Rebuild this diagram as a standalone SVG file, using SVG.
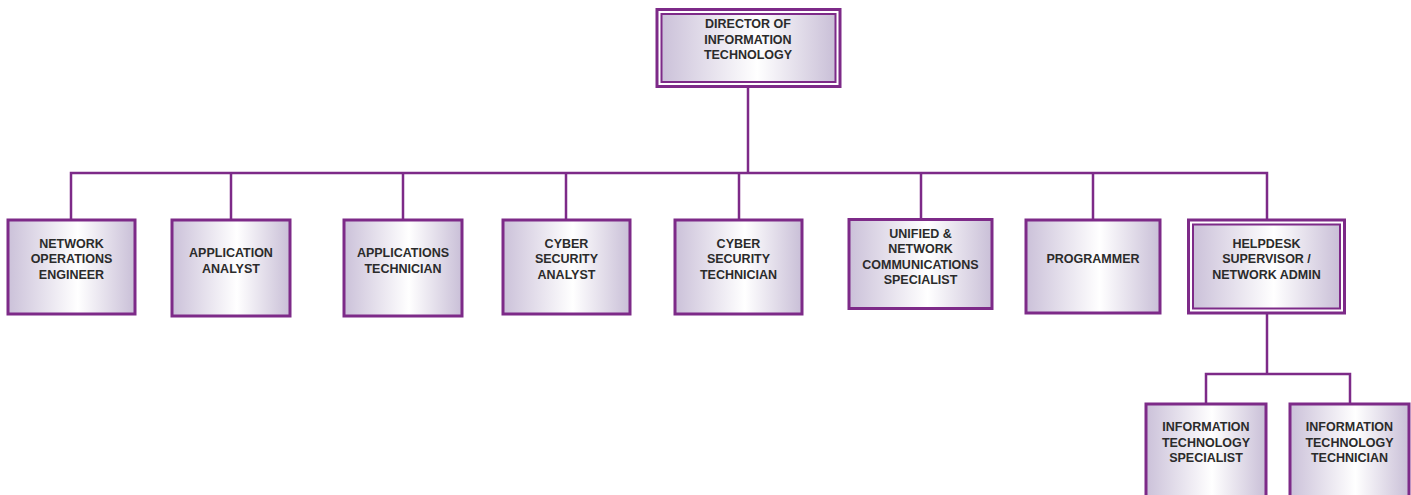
<svg xmlns="http://www.w3.org/2000/svg" width="1411" height="495" viewBox="0 0 1411 495">
  <defs>
    <linearGradient id="boxFill" x1="0" y1="0" x2="1" y2="0">
      <stop offset="0" stop-color="#cbc1d9"/>
      <stop offset="0.55" stop-color="#ffffff"/>
      <stop offset="1" stop-color="#c9bfd7"/>
    </linearGradient>
  </defs>
  <style>
    .box { fill: url(#boxFill); stroke: #7d2a88; stroke-width: 3; }
    .outer { fill: none; stroke: #7d2a88; stroke-width: 3; }
    .inner { fill: url(#boxFill); stroke: #7d2a88; stroke-width: 2; }
    .link { fill: none; stroke: #7d2a88; stroke-width: 2.5; }
    text { font-family: "Liberation Sans", Arial, sans-serif; font-size: 12.5px; font-weight: bold; fill: #2b2b2b; text-anchor: middle; }
  </style>

  <!-- reporting lines -->
  <g id="connectors">
    <path class="link" d="M748 86 V173"/>
    <path class="link" d="M71 219 V173 H1267 V219"/>
    <path class="link" d="M231 173 V219 M403 173 V219 M566 173 V219 M739 173 V219 M921 173 V219 M1093 173 V219"/>
    <path class="link" d="M1267 313 V374"/>
    <path class="link" d="M1206 403 V374 H1350 V403"/>
  </g>

  <g id="director">
    <rect class="outer" x="657" y="9.5" width="183" height="77"/>
    <rect class="inner" x="661.5" y="14" width="174" height="68"/>
    <text x="748" y="28">DIRECTOR OF</text>
    <text x="748" y="43.5">INFORMATION</text>
    <text x="748" y="59">TECHNOLOGY</text>
  </g>

  <g id="network-operations-engineer">
    <rect class="box" x="8" y="220" width="127" height="94"/>
    <text x="71.5" y="247.5">NETWORK</text>
    <text x="71.5" y="263">OPERATIONS</text>
    <text x="71.5" y="278.5">ENGINEER</text>
  </g>

  <g id="application-analyst">
    <rect class="box" x="172" y="220" width="118" height="96"/>
    <text x="231" y="257">APPLICATION</text>
    <text x="231" y="272.5">ANALYST</text>
  </g>

  <g id="applications-technician">
    <rect class="box" x="344" y="220" width="118" height="96"/>
    <text x="403" y="257">APPLICATIONS</text>
    <text x="403" y="272.5">TECHNICIAN</text>
  </g>

  <g id="cyber-security-analyst">
    <rect class="box" x="503" y="220" width="127" height="94"/>
    <text x="566.5" y="247.5">CYBER</text>
    <text x="566.5" y="263">SECURITY</text>
    <text x="566.5" y="278.5">ANALYST</text>
  </g>

  <g id="cyber-security-technician">
    <rect class="box" x="675" y="220" width="127" height="94"/>
    <text x="738.5" y="247.5">CYBER</text>
    <text x="738.5" y="263">SECURITY</text>
    <text x="738.5" y="278.5">TECHNICIAN</text>
  </g>

  <g id="unified-network-communications-specialist">
    <rect class="box" x="849" y="219.5" width="143" height="89"/>
    <text x="920.5" y="237.5">UNIFIED &amp;</text>
    <text x="920.5" y="253">NETWORK</text>
    <text x="920.5" y="268.5">COMMUNICATIONS</text>
    <text x="920.5" y="284">SPECIALIST</text>
  </g>

  <g id="programmer">
    <rect class="box" x="1026" y="220" width="134" height="93"/>
    <text x="1093" y="262.5">PROGRAMMER</text>
  </g>

  <g id="helpdesk-supervisor">
    <rect class="outer" x="1188.5" y="220" width="156" height="93"/>
    <rect class="inner" x="1193" y="224.5" width="147" height="84"/>
    <text x="1266.5" y="247.5">HELPDESK</text>
    <text x="1266.5" y="263">SUPERVISOR /</text>
    <text x="1266.5" y="278.5">NETWORK ADMIN</text>
  </g>

  <g id="it-specialist">
    <rect class="box" x="1146" y="404" width="120" height="96"/>
    <text x="1206" y="431">INFORMATION</text>
    <text x="1206" y="446.5">TECHNOLOGY</text>
    <text x="1206" y="462">SPECIALIST</text>
  </g>

  <g id="it-technician">
    <rect class="box" x="1290" y="404" width="119" height="96"/>
    <text x="1349.5" y="431">INFORMATION</text>
    <text x="1349.5" y="446.5">TECHNOLOGY</text>
    <text x="1349.5" y="462">TECHNICIAN</text>
  </g>
</svg>
